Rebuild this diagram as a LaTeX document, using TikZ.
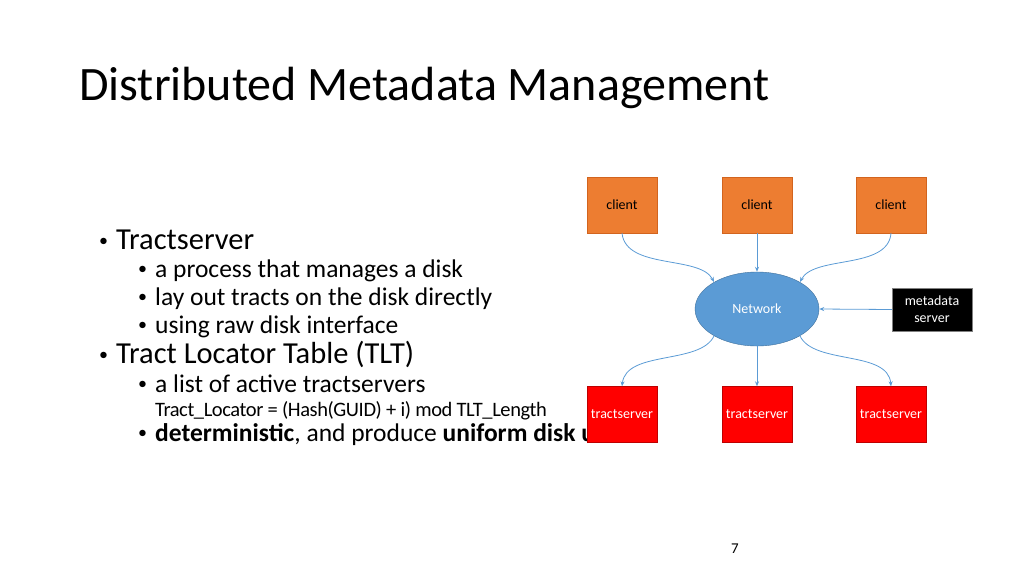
\documentclass[tikz,border=0pt]{standalone}
\usepackage{fontspec}
\usetikzlibrary{shapes.geometric,arrows.meta}
\setmainfont{Carlito}
\newcommand{\bl}{\makebox[17pt][l]{\fontsize{18}{18}\selectfont\raisebox{0.12em}{•}}}
\begin{document}
\begin{tikzpicture}[x=1pt,y=-1pt,
  box/.style={minimum width=70pt,minimum height=56pt,inner sep=0pt,font=\fontsize{14}{14}\selectfont},
  cli/.style={box,fill={rgb,255:red,237;green,125;blue,49},draw={rgb,255:red,210;green,100;blue,30}},
  ts/.style={box,fill=red,draw={rgb,255:red,190;green,0;blue,0},text=white},
  conn/.style={draw={rgb,255:red,91;green,155;blue,213},-{Stealth[length=5pt,width=4pt]},line width=0.8pt},
  l1/.style={anchor=base west,font=\fontsize{30.5}{30}\selectfont,inner sep=0pt},
  l2/.style={anchor=base west,font=\fontsize{25.5}{24}\selectfont,inner sep=0pt}]
\useasboundingbox (0,0) rectangle (1024,576);
\node[anchor=base west,inner sep=0pt,font=\fontsize{48}{48}\selectfont] (title) at (79,100) {Distributed Metadata Management};
\node[l1] (a) at (99,249) {\bl Tractserver};
\node[l2] (a1) at (138,277) {\bl a process that manages a disk};
\node[l2] (a2) at (138,305) {\bl lay out tracts on the disk directly};
\node[l2] (a3) at (138,333) {\bl using raw disk interface};
\node[l1] (b) at (99,363) {\bl Tract Locator Table (TLT)};
\node[l2] (b1) at (138,392) {\bl a list of active tractservers};
\node[anchor=base west,inner sep=0pt,font=\fontsize{20.5}{20}\selectfont] (b2) at (155,416) {\addfontfeature{LetterSpace=-2}Tract\_Locator = (Hash(GUID) + i) mod TLT\_Length};
\begin{scope}
\clip (0,0) rectangle (589,576);
\node[l2] (b3) at (138,441) {\bl \textbf{deterministic}, and produce \textbf{uniform disk utilization}};
\end{scope}
\node[cli] (c1) at (622,205) {client};
\node[cli] (c2) at (757,205) {client};
\node[cli] (c3) at (891,205) {client};
\node[ts] (t1) at (622,414.5) {tractserver};
\node[ts] (t2) at (757,414.5) {tractserver};
\node[ts] (t3) at (891,414.5) {tractserver};
\node[ellipse,minimum width=124pt,minimum height=74pt,inner sep=0pt,fill={rgb,255:red,91;green,155;blue,213},draw={rgb,255:red,65;green,113;blue,156},text=white,font=\fontsize{14}{14}\selectfont] (net) at (757,309) {Network};
\node[fill=black,draw=gray,text=white,minimum width=80pt,minimum height=43pt,inner sep=0pt,align=center,font=\fontsize{14}{17}\selectfont] (ms) at (932,309.5) {metadata\\server};
\draw[conn] (c1.south) .. controls (626,270) and (700,255) .. (714,282);
\draw[conn] (c2.south) -- (net.north);
\draw[conn] (c3.south) .. controls (888,270) and (814,255) .. (800,282);
\draw[conn] (ms.west) -- (net.east);
\draw[conn] (714,336) .. controls (700,365) and (626,350) .. (t1.north);
\draw[conn] (net.south) -- (t2.north);
\draw[conn] (800,336) .. controls (814,365) and (888,350) .. (t3.north);
\node[font=\fontsize{15}{15}\selectfont] (pg) at (735,549) {7};
\end{tikzpicture}
\end{document}
